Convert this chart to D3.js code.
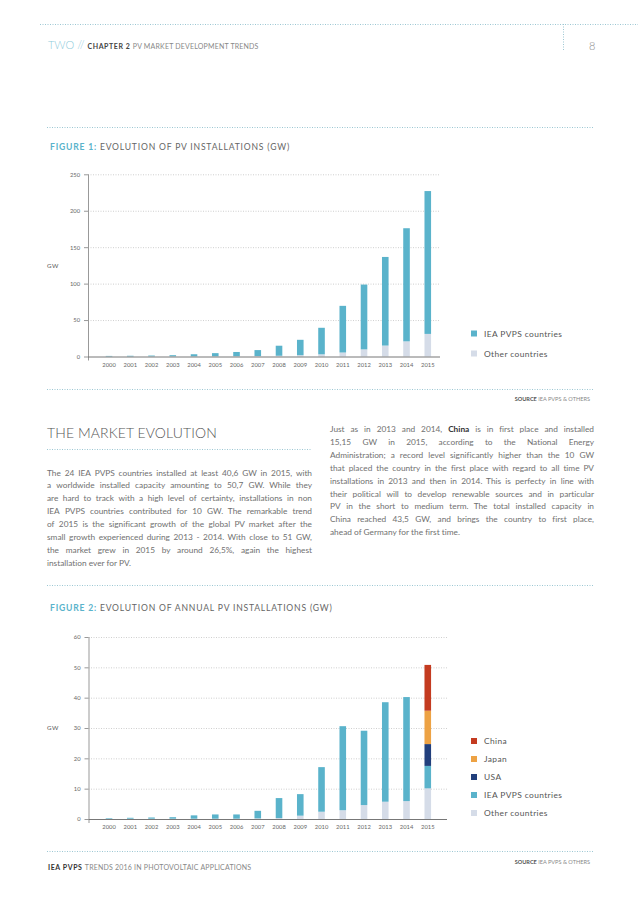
<!DOCTYPE html>
<html><head><meta charset="utf-8">
<script src="https://cdn.jsdelivr.net/npm/d3@7"></script>
<style>body{margin:0;background:#fff}svg{display:block}text{font-variant-ligatures:none}</style>
</head><body>
<svg id="page" width="638" height="903"></svg>
<script>
// ---------- DATA ----------
const years = ["2000","2001","2002","2003","2004","2005","2006","2007","2008","2009","2010","2011","2012","2013","2014","2015"];
// Figure 1 : cumulative installations (GW)
const fig1Other = [0.1,0.1,0.2,0.2,0.2,0.3,0.4,0.6,1.0,1.8,3.0,5.5,9.8,15.0,20.8,31.0];
const fig1Iea   = [0.7,0.9,1.1,1.6,2.9,4.3,5.8,8.2,13.8,21.1,36.4,64.0,88.9,121.6,155.2,196.0];
const fig1Ticks = [0,50,100,150,200,250];
const fig1Legend = ["IEA PVPS countries","Other countries"];
// Figure 2 : annual installations (GW)
const fig2Other = [0.05,0.1,0.1,0.1,0.1,0.1,0.1,0.2,0.3,1.1,2.4,2.9,4.6,5.7,5.9,10.1];
const fig2Iea   = [0.2,0.3,0.4,0.5,1.1,1.4,1.4,2.5,6.6,7.1,14.7,27.7,24.5,32.8,34.3,7.4];
const fig2Usa   = [0,0,0,0,0,0,0,0,0,0,0,0,0,0,0,7.2];
const fig2Japan = [0,0,0,0,0,0,0,0,0,0,0,0,0,0,0,11.0];
const fig2China = [0,0,0,0,0,0,0,0,0,0,0,0,0,0,0,15.1];
const fig2Ticks = [0,10,20,30,40,50,60];
const fig2Legend = ["China","Japan","USA","IEA PVPS countries","Other countries"];

const leftPara = [
 "The 24 IEA PVPS countries installed at least 40,6 GW in 2015, with",
 "a worldwide installed capacity amounting to 50,7 GW. While they",
 "are hard to track with a high level of certainty, installations in non",
 "IEA PVPS countries contributed for 10 GW. The remarkable trend",
 "of 2015 is the significant growth of the global PV market after the",
 "small growth experienced during 2013 - 2014. With close to 51 GW,",
 "the market grew in 2015 by around 26,5%, again the highest",
 "installation ever for PV."
];
const rightPara = [
 "Just as in 2013 and 2014, *China* is in first place and installed",
 "15,15 GW in 2015, according to the National Energy",
 "Administration; a record level significantly higher than the 10 GW",
 "that placed the country in the first place with regard to all time PV",
 "installations in 2013 and then in 2014. This is perfecty in line with",
 "their political will to develop renewable sources and in particular",
 "PV in the short to medium term. The total installed capacity in",
 "China reached 43,5 GW, and brings the country to first place,",
 "ahead of Germany for the first time."
];

// ---------- STYLE ----------
const FONT = "Lato, 'Open Sans', sans-serif";
const TEAL = "#5ab3cb", LIGHT = "#d5dce8";
const colors = {china:"#c43b20", japan:"#eda244", usa:"#213f7c", iea:TEAL, other:LIGHT};
const TXT = "#707070", DOT = "#9cc7d3";

const svg = d3.select("#page").style("font-family", FONT);

function dotted(x1,y1,x2,y2){
  svg.append("line").attr("x1",x1).attr("y1",y1).attr("x2",x2).attr("y2",y2)
    .attr("stroke",DOT).attr("stroke-width",1).attr("stroke-dasharray","1,1.5");
}

// ---------- HEADER ----------
dotted(40,24.5,638,24.5);
dotted(563.5,24,563.5,50);
const h = svg.append("text").attr("x",48).attr("y",49).attr("font-size",7).attr("fill","#888");
h.append("tspan").text("TWO // ").attr("font-size",11).attr("fill","#8fcbdb").attr("font-weight",300);
h.append("tspan").text("CHAPTER 2 ").attr("font-weight",700).attr("fill","#444").attr("letter-spacing",0.6);
h.append("tspan").text("PV MARKET DEVELOPMENT TRENDS").attr("fill","#888").attr("letter-spacing",0.2);
svg.append("text").attr("x",589).attr("y",50).attr("font-size",11).attr("fill","#888").attr("font-weight",300).text("8");

// ---------- FIGURE TITLE ----------
function figTitle(y, num, rest){
  const t = svg.append("text").attr("x",50).attr("y",y).attr("font-size",8.6).attr("letter-spacing",0.8);
  t.append("tspan").text("FIGURE  "+num+": ").attr("font-weight",700).attr("fill",TEAL);
  t.append("tspan").text(rest).attr("fill","#666");
}

// ---------- CHART ----------
function chart(cfg){
  const x = d3.scaleBand().domain(years).range([98.4,438.4]);
  const y = d3.scaleLinear().domain([0, cfg.max]).range([cfg.y0, cfg.yTop]);
  const g = svg.append("g");
  g.selectAll("line.grid").data(cfg.ticks.slice(1)).join("line")
    .attr("x1",cfg.ax).attr("x2",cfg.gridEnd).attr("y1",d=>y(d)+0.5).attr("y2",d=>y(d)+0.5)
    .attr("stroke","#cfcfcf").attr("stroke-dasharray","1,1.5");
  const yAxis = d3.axisLeft(y).tickValues(cfg.ticks).tickSize(4).tickPadding(4);
  const ya = g.append("g").attr("transform",`translate(${cfg.ax},0)`).call(yAxis);
  ya.select(".domain").remove();
  ya.selectAll(".tick line").attr("stroke","#999");
  ya.selectAll("text").attr("font-size",5.8).attr("fill","#666").attr("font-family",FONT);
  g.append("line").attr("x1",cfg.ax+0.5).attr("x2",cfg.ax+0.5).attr("y1",cfg.yTop).attr("y2",cfg.y0+4).attr("stroke","#999");
  const rows = years.map((yr,i)=>{const r={year:yr}; cfg.keys.forEach(k=>r[k]=cfg.series[k][i]); return r;});
  const stack = d3.stack().keys(cfg.keys)(rows);
  const bw = x.bandwidth()*0.31;
  g.selectAll("g.layer").data(stack).join("g").attr("fill",d=>colors[d.key])
    .selectAll("rect").data(d=>d).join("rect")
    .attr("x",d=>x(d.data.year)+(x.bandwidth()-bw)/2).attr("width",bw)
    .attr("y",d=>y(d[1])).attr("height",d=>Math.max(0,y(d[0])-y(d[1])));
  const xAxis = d3.axisBottom(x).tickSize(0).tickPadding(6);
  const xa = g.append("g").attr("transform",`translate(0,${cfg.y0})`).call(xAxis);
  xa.select(".domain").remove();
  xa.selectAll("text").attr("font-size",5.8).attr("fill","#666").attr("font-family",FONT);
  g.append("line").attr("x1",cfg.ax).attr("x2",cfg.axEnd).attr("y1",cfg.y0+0.5).attr("y2",cfg.y0+0.5).attr("stroke","#777");
  g.append("text").attr("x",47).attr("y",cfg.gwY).attr("font-size",6.2).attr("fill","#555").attr("letter-spacing",0.6).text("GW");
  const lg = g.selectAll("g.leg").data(cfg.legend).join("g")
    .attr("transform",(d,i)=>`translate(471,${cfg.legY+i*cfg.legStep})`);
  lg.append("rect").attr("x",0).attr("y",-3).attr("width",6).attr("height",6).attr("fill",(d,i)=>colors[cfg.legKeys[i]]);
  lg.append("text").attr("x",13).attr("y",3).attr("font-size",8.4).attr("fill","#555").attr("letter-spacing",0.4).text(d=>d);
}

function source(y){
  const t = svg.append("text").attr("x",590).attr("y",y).attr("text-anchor","end").attr("font-size",5.6).attr("fill","#888");
  t.append("tspan").text("SOURCE ").attr("font-weight",700).attr("fill","#555");
  t.append("tspan").text("IEA PVPS & OTHERS");
}

// Figure 1
dotted(47,127.5,594,127.5);
figTitle(150,"1","EVOLUTION OF PV INSTALLATIONS (GW)");
chart({max:250, ticks:fig1Ticks, y0:356.5, yTop:174.3, ax:88, gridEnd:440, axEnd:440, gwY:268,
  keys:["other","iea"], series:{other:fig1Other, iea:fig1Iea},
  legend:fig1Legend, legKeys:["iea","other"], legY:333.5, legStep:20});
dotted(47,389.5,594,389.5);
source(401);

// ---------- TEXT ----------
svg.append("text").attr("x",47).attr("y",438).attr("font-size",14).attr("font-weight",300)
  .attr("fill","#555").attr("letter-spacing",0.1).text("THE MARKET EVOLUTION");
dotted(47,449.5,312,449.5);

function para(lines,x0,width,y0,lh,size){
  lines.forEach((line,li)=>{
    const t = svg.append("text").attr("y",y0+li*lh).attr("font-size",size).attr("fill",TXT);
    const last = li===lines.length-1;
    if(last){ t.attr("x",x0).text(line.replace(/\*/g,"")); return; }
    const words = line.split(" ");
    const spans = words.map(w=>{
      const bold = w.startsWith("*");
      return t.append("tspan").text(w.replace(/\*/g,"")).attr("font-weight",bold?700:null).attr("fill",bold?"#333":null);
    });
    const widths = spans.map(s=>s.node().getComputedTextLength());
    const total = d3.sum(widths);
    const gap = (width-total)/(words.length-1);
    let cx = x0;
    spans.forEach((s,i)=>{ s.attr("x",cx); cx += widths[i]+gap; });
  });
}
para(leftPara,47,265,475.5,12.9,8.3);
para(rightPara,330,264,432,12.9,8.3);

// Figure 2
dotted(47,585.5,594,585.5);
figTitle(611,"2","EVOLUTION OF ANNUAL PV INSTALLATIONS (GW)");
chart({max:60, ticks:fig2Ticks, y0:819, yTop:637, ax:88.5, gridEnd:447, axEnd:447, gwY:730,
  keys:["other","iea","usa","japan","china"], series:{other:fig2Other, iea:fig2Iea, usa:fig2Usa, japan:fig2Japan, china:fig2China},
  legend:fig2Legend, legKeys:["china","japan","usa","iea","other"], legY:741, legStep:18});

// ---------- FOOTER ----------
dotted(47,851.5,594,851.5);
source(864);
const f = svg.append("text").attr("x",48).attr("y",870).attr("font-size",7).attr("fill","#888").attr("letter-spacing",0.2);
f.append("tspan").text("IEA PVPS ").attr("font-weight",700).attr("fill","#333").attr("letter-spacing",0.6);
f.append("tspan").text("TRENDS 2016 IN PHOTOVOLTAIC APPLICATIONS");
</script>
</body></html>
